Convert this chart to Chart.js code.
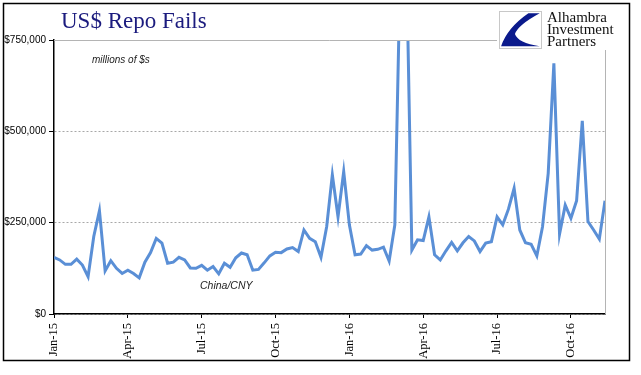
<!DOCTYPE html>
<html>
<head>
<meta charset="utf-8">
<script src="https://cdn.jsdelivr.net/npm/chart.js@4.4.0/dist/chart.umd.min.js"></script>
<style>
  body { margin: 0; background: #fff; }
  #wrap { width: 641px; height: 375px; position: relative; }
</style>
</head>
<body>
<div id="wrap"><canvas id="myChart"></canvas></div>
<script>
// weekly repo fails, Jan-15 .. late Nov-16
const fails = [
  155000, 148000, 136000, 136000, 150000, 134000, 102000, 212000, 283000, 118000,
  146000, 125000, 111000, 120000, 111000, 99000, 142000, 168000, 207000, 194000,
  139000, 142000, 155000, 148000, 126000, 125000, 133000, 120000, 130000, 110000,
  139000, 128000, 154000, 167000, 162000, 120000, 122000, 140000, 159000, 169000,
  168000, 178000, 182000, 171000, 230000, 207000, 198000, 155000, 239000, 381000,
  266000, 390000, 244000, 162000, 164000, 187000, 175000, 177000, 183000, 145000,
  244000, 980000, 1010000, 175000, 203000, 201000, 266000, 162000, 148000, 173000,
  196000, 173000, 195000, 212000, 200000, 171000, 194000, 198000, 266000, 244000,
  287000, 344000, 230000, 195000, 191000, 159000, 239000, 385000, 686000, 219000,
  298000, 262000, 310000, 529000, 253000, 230000, 205000, 310000
];
const tickWeeks = [0, 13, 26, 39, 52, 65, 78, 91];
const tickLabels = ["Jan-15", "Apr-15", "Jul-15", "Oct-15", "Jan-16", "Apr-16", "Jul-16", "Oct-16"];
const yTicks = [0, 250000, 500000, 750000];

const lineBlue = "#5a8fd6";

const decor = {
  id: "decor",
  afterDraw(chart) {
    const ctx = chart.ctx;
    const a = chart.chartArea;
    ctx.save();
    // plot area top + right border (solid gray)
    ctx.strokeStyle = "#b4b4b4";
    ctx.lineWidth = 1;
    ctx.beginPath();
    ctx.moveTo(a.left, a.top + 0.5);
    ctx.lineTo(a.right + 0.5, a.top + 0.5);
    ctx.lineTo(a.right + 0.5, a.bottom);
    ctx.stroke();

    // logo block
    ctx.fillStyle = "#fff";
    ctx.fillRect(497, 6, 128, 44);
    const lx = 499, ly = 11, lw = 42, lh = 37;
    ctx.strokeStyle = "#c8c8c8";
    ctx.strokeRect(lx + 0.5, ly + 0.5, lw, lh);
    ctx.fillStyle = "#0b1a8c";
    ctx.beginPath();
    ctx.moveTo(lx + 0.70 * lw, ly + 0.06 * lh);
    ctx.lineTo(lx + 0.97 * lw, ly + 0.06 * lh);
    ctx.quadraticCurveTo(lx + 0.45 * lw, ly + 0.38 * lh, lx + 0.38 * lw, ly + 0.62 * lh);
    ctx.quadraticCurveTo(lx + 0.45 * lw, ly + 0.86 * lh, lx + 0.97 * lw, ly + 0.95 * lh);
    ctx.lineTo(lx + 0.05 * lw, ly + 0.95 * lh);
    ctx.quadraticCurveTo(lx + 0.2 * lw, ly + 0.45 * lh, lx + 0.70 * lw, ly + 0.06 * lh);
    ctx.fill();
    ctx.fillStyle = "#111";
    ctx.font = "15px 'Liberation Serif'";
    ctx.textAlign = "left";
    ctx.textBaseline = "alphabetic";
    ctx.fillText("Alhambra", 547, 22);
    ctx.fillText("Investment", 547, 34);
    ctx.fillText("Partners", 547, 46);

    // title and notes
    ctx.fillStyle = "#1b1b7e";
    ctx.font = "23px 'Liberation Serif'";
    ctx.fillText("US$ Repo Fails", 61, 28);
    ctx.fillStyle = "#222";
    ctx.font = "italic 10px 'Liberation Sans'";
    ctx.fillText("millions of $s", 92, 63);
    ctx.font = "italic 10.5px 'Liberation Sans'";
    ctx.fillText("China/CNY", 200, 289);

    // outer frame
    ctx.strokeStyle = "#000";
    ctx.lineWidth = 1.5;
    ctx.strokeRect(3.5, 3.5, 626, 357);
    ctx.restore();
  }
};

new Chart(document.getElementById("myChart"), {
  type: "line",
  data: {
    datasets: [{
      data: fails.map((v, i) => ({ x: i, y: v })),
      borderColor: lineBlue,
      borderWidth: 3,
      pointRadius: 0,
      tension: 0,
      fill: false
    }]
  },
  options: {
    responsive: true,
    maintainAspectRatio: false,
    animation: false,
    layout: { padding: { left: 0, top: 40, right: 36, bottom: 0 } },
    plugins: { legend: { display: false }, tooltip: { enabled: false } },
    scales: {
      x: {
        type: "linear",
        min: 0,
        max: fails.length - 1,
        afterBuildTicks: (s) => { s.ticks = tickWeeks.map(v => ({ value: v })); },
        afterFit: (s) => { s.height = 61; },
        grid: { display: true, drawOnChartArea: false, drawTicks: true, tickLength: 4, tickColor: "#000" },
        border: { color: "#000", width: 1.5 },
        ticks: {
          autoSkip: false,
          maxRotation: 90,
          minRotation: 90,
          padding: 5,
          color: "#000",
          font: { family: "'Liberation Serif'", size: 12.5 },
          callback: (v) => tickLabels[tickWeeks.indexOf(v)]
        }
      },
      y: {
        min: 0,
        max: 750000,
        afterBuildTicks: (s) => { s.ticks = yTicks.map(v => ({ value: v })); },
        afterFit: (s) => { s.width = 54; },
        grid: { color: "#a8a8a8", lineWidth: 1, tickLength: 5, tickColor: "#000" },
        border: { color: "#000", width: 1.5, dash: [2, 2] },
        ticks: {
          padding: 3,
          color: "#000",
          font: { family: "'Liberation Sans'", size: 10 },
          callback: (v) => "$" + v.toLocaleString("en-US")
        }
      }
    }
  },
  plugins: [decor]
});
</script>
</body>
</html>
